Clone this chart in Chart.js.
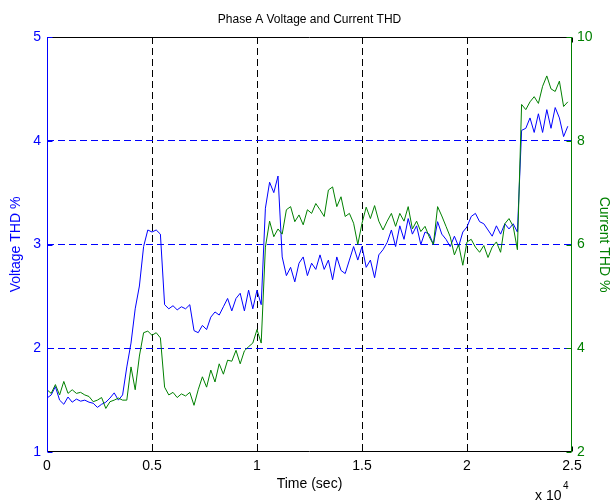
<!DOCTYPE html>
<html>
<head>
<meta charset="utf-8">
<title>Phase A Voltage and Current THD</title>
<script src="https://cdn.jsdelivr.net/npm/chart.js@4.4.1/dist/chart.umd.min.js"></script>
<style>
  html, body { margin: 0; padding: 0; background: #fff; }
  #wrap { width: 613px; height: 503px; }
</style>
</head>
<body>
<div id="wrap"><canvas id="thdChart" width="613" height="503"></canvas></div>
<script>
// sample times (sec)
var timeSec = [
  0, 200, 400, 600, 800, 1000, 1200, 1400, 1600, 1800,
  2000, 2200, 2400, 2600, 2800, 3000, 3200, 3400, 3600, 3800,
  4000, 4200, 4400, 4600, 4800, 5000, 5200, 5400, 5600, 5800,
  6000, 6200, 6400, 6600, 6800, 7000, 7200, 7400, 7600, 7800,
  8000, 8200, 8400, 8600, 8800, 9000, 9200, 9400, 9600, 9800,
  10000, 10200, 10400, 10600, 10800, 11000, 11200, 11400, 11600, 11800,
  12000, 12200, 12400, 12600, 12800, 13000, 13200, 13400, 13600, 13800,
  14000, 14200, 14400, 14600, 14800, 15000, 15200, 15400, 15600, 15800,
  16000, 16200, 16400, 16600, 16800, 17000, 17200, 17400, 17600, 17800,
  18000, 18200, 18400, 18600, 18800, 19000, 19200, 19400, 19600, 19800,
  20000, 20200, 20400, 20600, 20800, 21000, 21200, 21400, 21600, 21800,
  22000, 22200, 22400, 22600, 22800, 23000, 23200, 23400, 23600, 23800,
  24000, 24200, 24400, 24600, 24800
];

// voltage THD % (left axis)
var voltTHD = [
  1.52, 1.55, 1.63, 1.50, 1.46, 1.53, 1.48, 1.51, 1.49, 1.50,
  1.48, 1.47, 1.43, 1.46, 1.48, 1.52, 1.57, 1.50, 1.55, 1.82,
  2.05, 2.38, 2.60, 2.98, 3.14, 3.12, 3.14, 3.10, 2.42, 2.38,
  2.41, 2.37, 2.40, 2.38, 2.42, 2.17, 2.15, 2.22, 2.18, 2.30,
  2.35, 2.32, 2.40, 2.48, 2.36, 2.48, 2.53, 2.36, 2.56, 2.38,
  2.56, 2.42, 3.35, 3.60, 3.50, 3.66, 2.88, 2.70, 2.78, 2.64,
  2.82, 2.88, 2.70, 2.82, 2.76, 2.90, 2.76, 2.85, 2.66, 2.88,
  2.75, 2.72, 2.85, 2.98, 2.85, 2.98, 2.78, 2.85, 2.68, 2.90,
  2.95, 3.02, 3.14, 2.98, 3.18, 3.05, 3.25, 3.10, 3.18, 3.00,
  3.12, 3.10, 3.00, 3.22, 3.10, 3.05, 2.98, 3.08, 2.98, 3.12,
  3.17, 3.27, 3.30, 3.22, 3.20, 3.14, 3.08, 3.18, 3.10, 3.20,
  3.15, 3.20, 3.12, 4.10, 4.12, 4.22, 4.08, 4.26, 4.08, 4.30,
  4.12, 4.32, 4.22, 4.04, 4.14
];

// current THD % (right axis)
var currTHD = [
  3.20, 3.13, 3.30, 3.10, 3.36, 3.13, 3.20, 3.13, 3.15, 3.10,
  3.07, 2.97, 3.00, 3.05, 2.84, 2.97, 3.00, 3.04, 3.00, 3.00,
  3.64, 3.20, 3.85, 4.30, 4.33, 4.25, 4.30, 4.20, 3.25, 3.10,
  3.15, 3.05, 3.12, 3.08, 3.15, 2.90, 3.20, 3.45, 3.25, 3.58,
  3.35, 3.70, 3.50, 3.77, 3.75, 3.96, 3.70, 3.95, 4.03, 4.10,
  4.36, 4.10, 5.95, 6.45, 6.15, 6.30, 6.20, 6.67, 6.73, 6.44,
  6.57, 6.38, 6.67, 6.60, 6.79, 6.67, 6.54, 7.05, 7.11, 6.73,
  6.92, 6.54, 6.60, 6.41, 6.00, 6.41, 6.72, 6.50, 6.75, 6.45,
  6.28, 6.45, 6.60, 6.35, 6.60, 6.45, 6.73, 6.30, 6.45, 6.25,
  6.35, 6.15, 6.00, 6.73, 6.55, 6.35, 6.15, 5.80, 6.00, 5.60,
  6.05, 6.10, 5.95, 5.85, 5.98, 5.75, 5.95, 6.05, 5.85, 6.40,
  6.50, 6.35, 5.90, 8.70, 8.60, 8.75, 8.85, 8.72, 9.05, 9.25,
  9.00, 8.95, 9.15, 8.66, 8.75
];

// tick positions
var xTicks = [0, 5000, 10000, 15000, 20000, 25000];
var voltTicks = [1, 2, 3, 4, 5];
var currTicks = [2, 4, 6, 8, 10];

var BLUE = '#0000ff';
var GREEN = '#008000';
var FAMILY = "'Liberation Sans', Arial, Helvetica, sans-serif";
var CLEAR = 'rgba(0,0,0,0)';

function toPoints(ys) {
  return ys.map(function(v, i) { return {x: timeSec[i], y: v}; });
}

function setTicks(list) {
  return function(scale) {
    scale.ticks = list.map(function(v) { return {value: v}; });
  };
}

// box round the plot + inward tick marks, matlab style
var axesFrame = {
  id: 'axesFrame',
  afterDatasetsDraw: function(chart) {
    var ctx = chart.ctx;
    var a = chart.chartArea;
    var sx = chart.scales.x, sy = chart.scales.y, sy2 = chart.scales.y2;
    var L = Math.round(a.left) + 0.5, R = Math.round(a.right) - 0.5;
    var T = Math.round(a.top) + 0.5, B = Math.round(a.bottom) - 0.5;
    var tk = 5;

    ctx.save();
    ctx.lineWidth = 1;
    ctx.setLineDash([]);

    ctx.strokeStyle = '#000';
    ctx.beginPath();
    ctx.moveTo(L, T); ctx.lineTo(R, T);
    ctx.moveTo(L, B); ctx.lineTo(R, B);
    xTicks.forEach(function(v) {
      var px = Math.round(sx.getPixelForValue(v)) + 0.5;
      ctx.moveTo(px, B); ctx.lineTo(px, B - tk);
      ctx.moveTo(px, T); ctx.lineTo(px, T + tk);
    });
    ctx.stroke();

    ctx.strokeStyle = BLUE;
    ctx.beginPath();
    ctx.moveTo(L, T - 0.5); ctx.lineTo(L, B + 0.5);
    voltTicks.forEach(function(v) {
      var py = Math.round(sy.getPixelForValue(v)) + 0.5;
      ctx.moveTo(L, py); ctx.lineTo(L + tk, py);
    });
    ctx.stroke();

    ctx.strokeStyle = GREEN;
    ctx.beginPath();
    ctx.moveTo(R, T - 0.5); ctx.lineTo(R, B + 0.5);
    currTicks.forEach(function(v) {
      var py = Math.round(sy2.getPixelForValue(v)) + 0.5;
      ctx.moveTo(R, py); ctx.lineTo(R - tk, py);
    });
    ctx.stroke();
    ctx.restore();
  },
  afterDraw: function(chart) {
    // x 10^4 multiplier under the x axis
    var ctx = chart.ctx;
    ctx.save();
    ctx.fillStyle = '#000';
    ctx.textBaseline = 'alphabetic';
    ctx.font = '14px ' + FAMILY;
    ctx.fillText('x 10', 535, 500);
    ctx.font = '10px ' + FAMILY;
    ctx.fillText('4', 563, 489);
    ctx.restore();
  }
};

var ctx = document.getElementById('thdChart').getContext('2d');

var thdChart = new Chart(ctx, {
  type: 'line',
  data: {
    datasets: [{
      label: 'Voltage THD %',
      data: toPoints(voltTHD),
      yAxisID: 'y',
      borderColor: BLUE,
      borderWidth: 1,
      pointRadius: 0,
      fill: false,
      order: 1
    }, {
      label: 'Current THD %',
      data: toPoints(currTHD),
      yAxisID: 'y2',
      borderColor: GREEN,
      borderWidth: 1,
      pointRadius: 0,
      fill: false,
      order: 0
    }]
  },
  options: {
    responsive: false,
    animation: false,
    events: [],
    layout: { padding: 0 },
    plugins: {
      legend: { display: false },
      tooltip: { enabled: false },
      title: {
        display: true,
        fullSize: false,
        text: 'Phase A Voltage and Current THD',
        color: '#000',
        font: { family: FAMILY, size: 12, weight: 'normal', lineHeight: 1.3 },
        padding: { top: 12, bottom: 9.4 }
      }
    },
    scales: {
      x: {
        type: 'linear',
        position: 'bottom',
        min: 0,
        max: 25000,
        afterBuildTicks: setTicks(xTicks),
        afterFit: function(s) { s.height = 51; },
        ticks: {
          color: '#000',
          font: { family: FAMILY, size: 14 },
          padding: 6,
          maxRotation: 0,
          autoSkip: false,
          callback: function(v) { return String(v / 10000); }
        },
        grid: {
          drawTicks: false,
          lineWidth: 1,
          color: function(c) {
            var v = c.tick ? c.tick.value : 0;
            return (v === 0 || v === 25000) ? CLEAR : '#000';
          }
        },
        border: { display: false, dash: [7, 4] },
        title: {
          display: true,
          text: 'Time (sec)',
          color: '#000',
          font: { family: FAMILY, size: 14 },
          padding: { top: 0, bottom: 10 }
        }
      },
      y: {
        type: 'linear',
        position: 'left',
        min: 1,
        max: 5,
        afterBuildTicks: setTicks(voltTicks),
        afterFit: function(s) { s.width = 47; },
        ticks: {
          color: BLUE,
          font: { family: FAMILY, size: 14 },
          padding: 6
        },
        grid: {
          drawTicks: false,
          lineWidth: 1,
          color: function(c) {
            var v = c.tick ? c.tick.value : 0;
            return (v === 1 || v === 5) ? CLEAR : BLUE;
          }
        },
        border: { display: false, dash: [7, 4] },
        title: {
          display: true,
          text: 'Voltage THD %',
          color: BLUE,
          font: { family: FAMILY, size: 14 },
          padding: { top: 8, bottom: 0 }
        }
      },
      y2: {
        type: 'linear',
        position: 'right',
        min: 2,
        max: 10,
        afterBuildTicks: setTicks(currTicks),
        afterFit: function(s) { s.width = 41; },
        ticks: {
          color: GREEN,
          font: { family: FAMILY, size: 14 },
          padding: 5
        },
        grid: { drawOnChartArea: false, drawTicks: false },
        border: { display: false },
        title: {
          display: true,
          text: 'Current THD %',
          color: GREEN,
          font: { family: FAMILY, size: 14 },
          padding: { top: 1, bottom: 0 }
        }
      }
    }
  },
  plugins: [axesFrame]
});
</script>
</body>
</html>
